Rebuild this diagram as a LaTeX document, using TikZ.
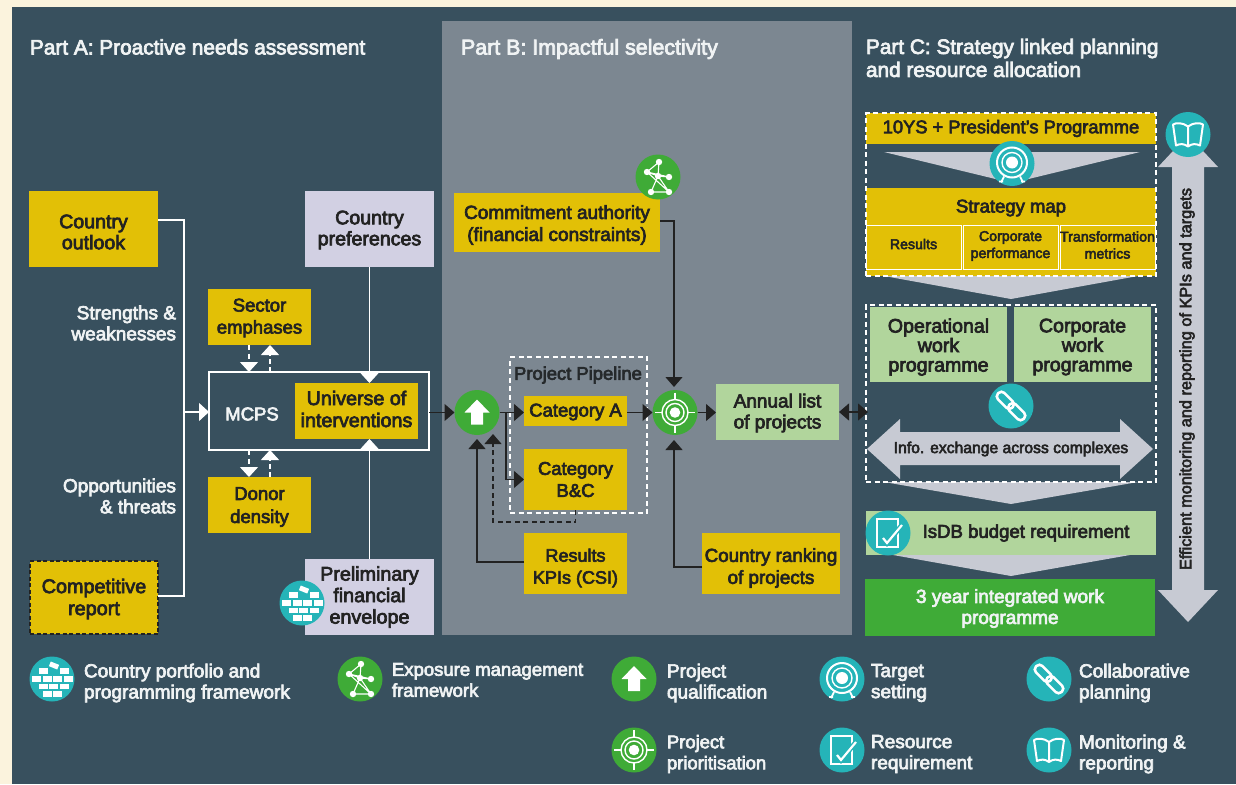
\documentclass[tikz,border=0pt]{standalone}
\usepackage{fontspec}
\setmainfont{Liberation Sans}[FakeBold=3.5]
\usetikzlibrary{arrows.meta,calc,shapes.misc}
\definecolor{cream}{HTML}{FBF3DD}
\definecolor{slate}{HTML}{38505E}
\definecolor{panelB}{HTML}{7C8791}
\definecolor{gold}{HTML}{E2C006}
\definecolor{lilac}{HTML}{D2D0E3}
\definecolor{leaf}{HTML}{B1D59C}
\definecolor{grass}{HTML}{3FAB37}
\definecolor{teal}{HTML}{25B4B8}
\definecolor{steel}{HTML}{C7CAD3}
\definecolor{ink}{HTML}{222222}
\definecolor{pale}{HTML}{F0F3F4}
\newcommand{\fs}[2]{\fontsize{#1}{#2}\selectfont}
\tikzset{
 every node/.style={inner sep=0pt,outer sep=0pt,align=center},
 txt/.style={font=\fs{19.3}{21.5}},
 gbox/.style={fill=gold,text=ink,txt},
 lbox/.style={fill=lilac,text=ink,txt},
 gnbox/.style={fill=leaf,text=ink,txt},
 subbox/.style={fill=gold,text=ink,draw=white,line width=1pt,font=\fs{14.2}{17}},
 head/.style={text=pale,anchor=west,font=\fs{20.8}{23}\selectfont,align=left},
 wlabel/.style={text=pale,font=\fs{19}{21},align=right,anchor=east},
 leg/.style={text=pale,anchor=west,font=\fs{19}{21},align=left},
 wline/.style={draw=white,line width=1.1pt},
 kline/.style={draw=ink,line width=1.2pt},
 warrow/.style={wline,-{Triangle[length=10pt,width=18pt,fill=white]}},
 karrow/.style={kline,-{Triangle[length=10pt,width=17pt,fill=ink]}},
 wdash/.style={draw=white,line width=1.2pt,dash pattern=on 5pt off 3.5pt},
 kdash/.style={draw=ink,line width=1.2pt,dash pattern=on 5pt off 3.5pt},
 tealc/.style={circle,fill=teal,minimum size=45pt},
 grassc/.style={circle,fill=grass,minimum size=45pt},
 chev/.style={fill=steel},
 ico/.style={draw=white,line width=1.4pt},
 icof/.style={fill=white},
}
% [text shift]{name}{x1}{y1}{x2}{y2}{style}{text}
\newcommand{\bx}[8][0]{\node[#7,minimum width={(#5-#3)*1pt},minimum height={(#6-#4)*1pt}] (#2) at ({(#3+#5)/2},{(#4+#6)/2}) {};
\node[#7,fill=none,draw=none] (#2t) at ({(#3+#5)/2},{(#4+#6)/2+#1}) {#8};}
\newcommand{\icoUp}[2]{\begin{scope}[shift={(#1,#2)}]\fill[icof] (0,-13)--(12.5,0)--(6,0)--(6,12)--(-6,12)--(-6,0)--(-12.5,0)--cycle;\end{scope}}
\newcommand{\icoPrio}[2]{\begin{scope}[shift={(#1,#2)}]
\fill[icof] (0,0) circle (5.3);\draw[ico] (0,0) circle (9);\draw[ico] (0,0) circle (13);
\draw[ico] (-20,0)--(-13,0) (13,0)--(20,0) (0,-20)--(0,-13) (0,13)--(0,20);\end{scope}}
\newcommand{\icoTarget}[2]{\begin{scope}[shift={(#1,#2)}]
\fill[icof] (0,-1) circle (6);\draw[ico] (0,-1) circle (10);\draw[ico,line width=2pt] (0,-1) circle (15);
\draw[ico,line width=1.8pt] (-8,13)--(-11,19) (8,13)--(11,19) (-13,18)--(-9,18) (9,18)--(13,18);\end{scope}}
\newcommand{\icoChain}[2]{\begin{scope}[shift={(#1,#2)}]
\draw[ico,line width=2.6pt,rotate=-45,rounded corners=4pt] (-18,-4.5) rectangle (2,4.5);
\draw[ico,line width=2.6pt,rotate=-45,rounded corners=4pt] (-2,-4.5) rectangle (18,4.5);\end{scope}}
\newcommand{\icoBook}[2]{\begin{scope}[shift={(#1,#2)}]
\draw[ico,line width=2pt,line join=round] (0,-8) .. controls (-5,-12) and (-12,-12) .. (-15,-10) -- (-12,11) .. controls (-8,9) and (-4,9) .. (0,12) .. controls (4,9) and (8,9) .. (12,11) -- (15,-10) .. controls (12,-12) and (5,-12) .. (0,-8) -- (0,12);\end{scope}}
\newcommand{\icoRes}[2]{\begin{scope}[shift={(#1,#2)}]
\draw[ico,line width=2pt] (-11,-14) rectangle (10,14);
\draw[draw=teal,line width=5pt] (-5,5)--(-1,10)--(14,-8);
\draw[ico,line width=2.2pt] (-5,5)--(-1,10)--(14,-8);\end{scope}}
\newcommand{\icoBrick}[2]{\begin{scope}[shift={(#1,#2)}]
\foreach \bxx/\byy in {-9/-8,12/-8,-16/0,-5/0,5/0,16/0,-9/7.5,1.5/7.5,12/7.5,-5/15,5/15}{\fill[icof] (\bxx-4.5,\byy-2.8) rectangle (\bxx+4.5,\byy+2.8);}
\fill[icof,rotate around={-22:(2,-13.5)}] (-2.5,-16) rectangle (6.5,-11);\end{scope}}
\newcommand{\icoNet}[2]{\begin{scope}[shift={(#1,#2)}]
\draw[ico,line width=1.1pt] (1,-15)--(0,-1)--(-11,-5)--(1,-15) (0,-1)--(11,0)--(-11,-5) (0,-1)--(-7,15)--(11,15)--(0,-1) (11,15)--(-11,-5);
\foreach \nxx/\nyy in {1/-15,-11/-5,11/0,-7/15,11/15,0/-1}{\fill[icof] (\nxx,\nyy) circle (3.2);}\end{scope}}
\begin{document}
\begin{tikzpicture}[x=1pt,y=-1pt]
\useasboundingbox (0,0) rectangle (1236,784);
\fill[cream] (0,0) rectangle (1236,784);
\fill[slate] (12,7) rectangle (1236,784);
\fill[panelB] (442,21) rectangle (852,635);
% headings
\node[head] (hA) at (30,47) {Part A: Proactive needs assessment};
\node[head,font=\fs{21.4}{23}] (hB) at (461,49) {Part B: Impactful selectivity};
\node[head] (hC) at (866,58) {Part C: Strategy linked planning\\and resource allocation};
% Part A
\bx[3]{outlook}{29}{191}{158}{267}{gbox,font=\fs{19.6}{21}}{Country\\outlook}
\bx[1]{prefs}{305}{191}{434}{267}{lbox,font=\fs{19.6}{21}}{Country\\preferences}
\bx[1]{sector}{208}{289}{311}{345}{gbox,font=\fs{18.5}{22}}{Sector\\emphases}
\node[draw=white,line width=1.1pt,minimum width=220pt,minimum height=78pt] (mcps) at (319,411) {};
\node[text=pale,font=\fs{18.5}{21}] (mcpsl) at (252,414) {MCPS};
\bx[-2]{universe}{295}{383}{418}{439}{gbox,font=\fs{19.7}{22}}{Universe of\\interventions}
\bx[2]{donor}{208}{477}{311}{533}{gbox,font=\fs{18.5}{23}}{Donor\\density}
\bx[1.5]{compet}{30}{561}{158}{634}{gbox,font=\fs{19.8}{22},draw=ink,line width=1.2pt,dash pattern=on 4pt off 2.5pt}{Competitive\\report}
\bx{prelim}{305}{559}{434}{635}{lbox,font=\fs{19.7}{21.5}}{Preliminary\\financial\\envelope}
\node[wlabel] (sw) at (176,323) {Strengths \&\\weaknesses};
\node[wlabel] (ot) at (176,496) {Opportunities\\\& threats};
\coordinate (busT) at (184,220);
\coordinate (busB) at (184,596);
\coordinate (busM) at (184,412);
\draw[wline] (busT -| outlook.east) -- (busT) -- (busB) -- (busB -| compet.east);
\draw[warrow] (busM) -- (busM -| mcps.west);
\draw[warrow] (prefs.south) -- (universe.north -| prefs.south);
\draw[warrow] (prelim.north) -- (universe.south -| prelim.north);
\coordinate (dA) at (249,0);
\coordinate (dB) at (270,0);
\draw[wdash,-{Triangle[length=10pt,width=18pt,fill=white]}] (dA |- sector.south) -- (dA |- mcps.north);
\draw[wdash,-{Triangle[length=10pt,width=18pt,fill=white]}] (dB |- mcps.north) -- (dB |- sector.south);
\draw[wdash,-{Triangle[length=10pt,width=18pt,fill=white]}] (dA |- mcps.south) -- (dA |- donor.north);
\draw[wdash,-{Triangle[length=10pt,width=18pt,fill=white]}] (dB |- donor.north) -- (dB |- mcps.south);
% Part B
\bx[2.5]{commit}{454}{193}{660}{252}{gbox,font=\fs{19}{22}}{Commitment authority\\(financial constraints)}
\node[grassc] (net) at (658,177) {};
\icoNet{658}{177}
\node[draw=white,line width=1.2pt,dash pattern=on 5pt off 3.5pt,minimum width=137pt,minimum height=156pt] (pipe) at (578.5,435) {};
\node[text=ink!85!slate,font=\fs{18.4}{21}] (pipel) at (578,375) {Project Pipeline};
\node[grassc] (qual) at (477,412.5) {};
\icoUp{477}{412.5}
\node[grassc] (prio) at (675,412.5) {};
\icoPrio{675}{412.5}
\bx[1]{catA}{524}{396}{627}{426}{gbox,font=\fs{18.5}{21}}{Category A}
\bx{catB}{524}{449}{627}{510}{gbox,font=\fs{18.5}{22}}{Category\\B\&C}
\bx[4.5]{kpis}{524}{533}{627}{594}{gbox,font=\fs{18}{22}}{Results\\KPIs (CSI)}
\bx[1]{annual}{716}{384}{839}{440}{gnbox,font=\fs{19}{21}}{Annual list\\of projects}
\bx[4.5]{rank}{702}{533}{840}{594}{gbox,font=\fs{18.8}{22}}{Country ranking\\of projects}
\draw[karrow] (mcps.east |- qual.west) -- (qual.west);
\draw[karrow] (qual.east) -- (catA.west |- qual.east);
\coordinate (brA) at (506,412.5);
\draw[karrow] (brA) |- (catB.west);
\draw[karrow] (catA.east |- prio.west) -- (prio.west);
\draw[karrow] (prio.east) -- (annual.west |- prio.east);
\coordinate (cmT) at (674,221);
\draw[karrow,shorten >=3pt] (commit.east |- cmT) -- (cmT) -- (prio.north -| cmT);
\coordinate (rkT) at (674,567);
\draw[karrow,shorten >=5pt] (rank.west |- rkT) -- (rkT) -- (prio.south -| rkT);
\draw[karrow,shorten >=4pt] (kpis.west |- 0,562) -- (qual.south |- 0,562) -- (qual.south);
\coordinate (fbA) at (575.5,522);
\coordinate (fbB) at (493,522);
\coordinate (fbC) at (493,434);
\draw[kdash,-{Triangle[length=10pt,width=17pt,fill=ink]}] (catB.south -| fbA) -- (fbA) -- (fbB) -- (fbC);
% Part C
\bx{tenys}{866}{113}{1156}{144}{gbox,font=\fs{18.3}{21}}{10YS + President’s Programme}
\fill[chev] (884,152) -- (1140,152) -- (1012,183) -- cycle;
\node[tealc] (tgt) at (1012,163.5) {};
\icoTarget{1012}{163.5}
\bx{smap}{866}{188}{1156}{276}{fill=gold}{}
\node[text=ink,font=\fs{18.5}{21}] (smapl) at (1011,208) {Strategy map};
\bx[-3]{res}{866}{225}{961}{269}{subbox}{Results}
\bx[-1]{perf}{963}{225}{1058}{269}{subbox}{Corporate\\performance}
\bx[-2]{metr}{1060}{225}{1155}{269}{subbox}{Transformation\\metrics}
\fill[chev] (884,276) -- (1138,276) -- (1011,299) -- cycle;
\bx[2.5]{opwp}{870}{307}{1007}{382}{gnbox,font=\fs{19.6}{19.5}}{Operational\\work\\programme}
\bx[2.5]{cowp}{1014}{307}{1151}{382}{gnbox,font=\fs{19.6}{19.5}}{Corporate\\work\\programme}
\node[tealc] (link) at (1011,406) {};
\icoChain{1011}{406}
\fill[chev] (867,449) -- (900,419) -- (900,432) -- (1120,432) -- (1120,419) -- (1153,449) -- (1120,479) -- (1120,465) -- (900,465) -- (900,479) -- cycle;
\node[text=ink,font=\fs{15.7}{19}] (info) at (1011,449) {Info. exchange across complexes};
\fill[chev] (884,482) -- (1138,482) -- (1011,504) -- cycle;
\node[draw=white,line width=1.2pt,dash pattern=on 5pt off 3.5pt,minimum width=290pt,minimum height=163pt] (dashA) at (1011,194.5) {};
\node[draw=white,line width=1.2pt,dash pattern=on 5pt off 3.5pt,minimum width=290pt,minimum height=177pt] (dashB) at (1011,393.5) {};
\draw[karrow,{Triangle[length=10pt,width=17pt,fill=ink]}-{Triangle[length=10pt,width=17pt,fill=ink]},shorten >=-2pt] (annual.east) -- (annual.east -| dashB.west);
\bx{budget}{866}{511}{1156}{555}{gnbox,font=\fs{18.6}{21}}{\hspace*{30pt}IsDB budget requirement}
\fill[chev] (893,555) -- (1130,555) -- (1011,576) -- cycle;
\node[tealc] (resq) at (888,533) {};
\icoRes{888}{533}
\bx[1]{three}{865}{579}{1155}{636}{fill=grass,text=pale,font=\fs{19}{21}}{3 year integrated work\\programme}
\fill[chev] (1188,135) -- (1218,167) -- (1204,167) -- (1204,590) -- (1218,590) -- (1188,622) -- (1158,590) -- (1172,590) -- (1172,167) -- (1158,167) -- cycle;
\node[text=ink,font=\fs{16.3}{18},rotate=90] (mon) at (1187,379) {Efficient monitoring and reporting of KPIs and targets};
\node[tealc] (book) at (1188,134.5) {};
\icoBook{1188}{134.5}
% brick on envelope
\node[tealc] (brick) at (302,603) {};
\icoBrick{302}{603}
% legend
\node[tealc] (l1) at (52,679) {}; \icoBrick{52}{679}
\node[leg] (t1) at (84,683) {Country portfolio and\\programming framework};
\node[grassc] (l2) at (360,679) {}; \icoNet{360}{679}
\node[leg,font=\fs{18.5}{21}] (t2) at (392,680) {Exposure management\\framework};
\node[grassc] (l3) at (634,679) {}; \icoUp{634}{679}
\node[leg] (t3) at (667,683) {Project\\qualification};
\node[tealc] (l4) at (842,679) {}; \icoTarget{842}{679}
\node[leg] (t4) at (871,683) {Target\\setting};
\node[tealc] (l5) at (1049,679) {}; \icoChain{1049}{679}
\node[leg] (t5) at (1079,683) {Collaborative\\planning};
\node[grassc] (l6) at (634,750) {}; \icoPrio{634}{750}
\node[leg,font=\fs{18.4}{21}] (t6) at (667,754) {Project\\prioritisation};
\node[tealc] (l7) at (842,750) {}; \icoRes{842}{750}
\node[leg] (t7) at (871,754) {Resource\\requirement};
\node[tealc] (l8) at (1049,750) {}; \icoBook{1049}{750}
\node[leg] (t8) at (1079,754) {Monitoring \&\\reporting};
\end{tikzpicture}
\end{document}
